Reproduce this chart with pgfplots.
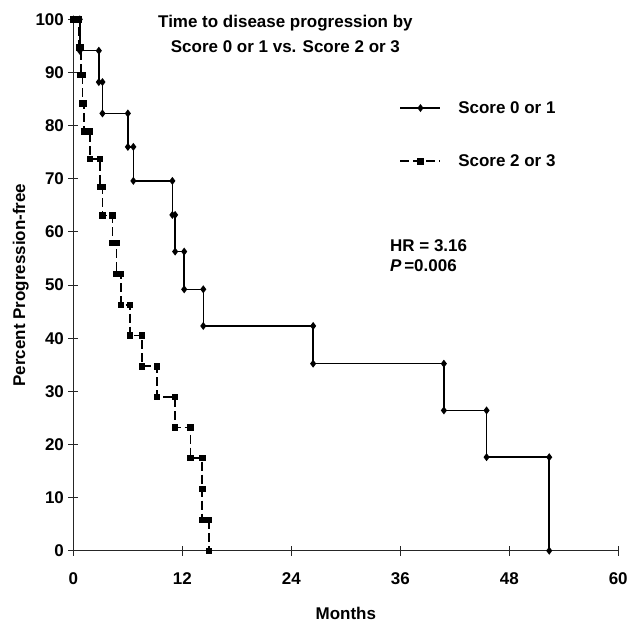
\documentclass[border=0pt]{standalone}
\usepackage{fontspec}
\setmainfont{Liberation Sans}
\usepackage{pgfplots}
\pgfplotsset{compat=1.18}

\newcommand{\chartfont}{\fontsize{17}{20}\selectfont\bfseries}

\begin{document}
\begin{tikzpicture}
\begin{axis}[
    scale only axis,
    width=545.5pt, height=532pt,
    xmin=0, xmax=60, ymin=0, ymax=100,
    enlargelimits=false,
    clip=false,
    axis x line=bottom, axis y line=left,
    axis line style={-, black!85, line width=1pt},
    tick align=center,
    major tick length=10pt,
    tick style={black!85, line width=0.9pt},
    xtick={0,12,...,60}, ytick={0,10,...,100},
    /pgf/number format/assume math mode=true,
    ticklabel style={font=\chartfont},
    xticklabel style={yshift=-13pt},
    yticklabel style={xshift=-1pt},
    xlabel={Months}, ylabel={Percent Progression-free},
    label style={font=\chartfont},
    xlabel style={yshift=-16pt},
    legend style={draw=none, fill=none, font=\chartfont,
        at={(axis cs:35.9,78.3)}, anchor=west, inner sep=0pt,
        row sep=40pt, column sep=0pt,
        nodes={inner sep=0pt},
        legend cell align=left},
    /tikz/every odd column/.append style={column sep=17pt},
    legend image code/.code={
        \draw[mark repeat=2,mark phase=2,#1]
            plot coordinates {(0pt,0pt) (20pt,0pt) (40pt,0pt)};
    },
]

% Score 0 or 1
\addplot[black, line width=1.5pt, mark=diamond*, mark size=2.8pt,
    mark options={solid}]
coordinates {
(0,100) (0.7,100) (0.7,94.1) (2.8,94.1) (2.8,88.2) (3.2,88.2) (3.2,82.3)
(6.0,82.3) (6.0,76.0) (6.6,76.0) (6.6,69.6) (10.9,69.6) (10.9,63.2)
(11.2,63.2) (11.2,56.3) (12.2,56.3) (12.2,49.2) (14.3,49.2) (14.3,42.3)
(26.4,42.3) (26.4,35.2) (40.8,35.2) (40.8,26.4) (45.5,26.4) (45.5,17.6)
(52.4,17.6) (52.4,0)
};
\addlegendentry{Score 0 or 1}

% Score 2 or 3
\addplot[black, line width=1.8pt, dash pattern=on 9pt off 4pt,
    mark=square*, mark size=2.3pt, mark options={solid}]
coordinates {
(0,100) (0.6,100) (0.6,94.7) (0.8,94.7) (0.8,89.5) (1.0,89.5) (1.0,84.2)
(1.15,84.2) (1.15,78.9) (1.8,78.9) (1.8,73.7) (2.9,73.7) (2.9,68.4)
(3.2,68.4) (3.2,63.1) (4.3,63.1) (4.3,57.9) (4.75,57.9) (4.75,52.1)
(5.25,52.1) (5.25,46.3) (6.2,46.3) (6.2,40.5) (7.55,40.5) (7.55,34.7)
(9.2,34.7) (9.2,28.9) (11.2,28.9) (11.2,23.2) (12.9,23.2) (12.9,17.4)
(14.2,17.4) (14.2,11.6) (14.2,5.8) (14.95,5.8) (14.95,0)
};
\addlegendentry{Score 2 or 3}

\node[font=\fontsize{17}{25}\selectfont\bfseries, align=center, anchor=north,
    inner sep=0pt] at (axis cs:23.35,100.9)
    {Time to disease progression by\\Score 0 or 1 vs. Score 2 or 3};
\node[font=\chartfont, align=left, anchor=north west, inner sep=0pt]
    at (axis cs:34.86,58.6)
    {HR = 3.16\\\textit{P}\,=0.006};

% page extent of the reference around the axis
\path (rel axis cs:0,0) ++(-73.5pt,-69.6pt);
\path (rel axis cs:1,1) ++(12pt,19.4pt);
\end{axis}
\end{tikzpicture}
\end{document}
